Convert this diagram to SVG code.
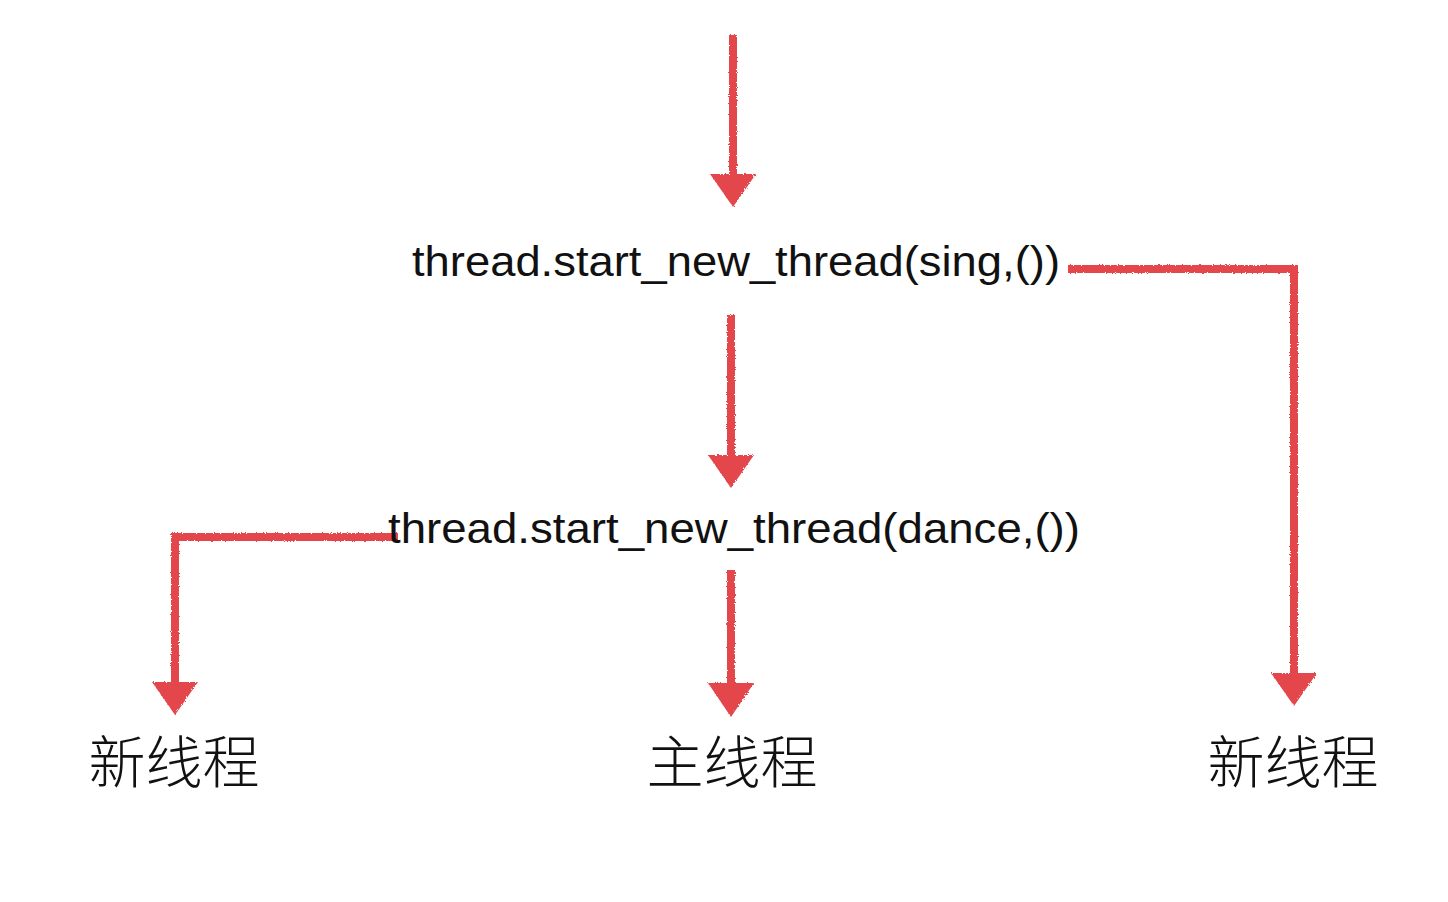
<svg xmlns="http://www.w3.org/2000/svg" width="1448" height="902" viewBox="0 0 1448 902">
<style>
.c{fill:none;stroke:#E4474B;stroke-width:8;stroke-linejoin:miter;stroke-linecap:butt}
.h{fill:#E4474B}
.code{font-family:"Liberation Sans","DejaVu Sans",sans-serif;font-size:43px;fill:#111}
.cjk{font-family:"Noto Sans CJK SC","Liberation Sans",sans-serif;font-size:57px;font-weight:300;fill:#111}
</style>
<defs>
<filter id="rough" x="-10%" y="-10%" width="120%" height="120%">
<feTurbulence type="fractalNoise" baseFrequency="0.9" numOctaves="2" seed="3" result="n"/>
<feDisplacementMap in="SourceGraphic" in2="n" scale="3"/>
</filter>
</defs>
<rect width="1448" height="902" fill="#fff"/>
<g id="connectors" filter="url(#rough)">
<path class="c" d="M733 35 V178"/>
<polygon class="h" points="710,174 756,174 733,207"/>
<path class="c" d="M731 315 V460"/>
<polygon class="h" points="708,455 754,455 731,488"/>
<path class="c" d="M1068 269 H1294 V678"/>
<polygon class="h" points="1271,673 1317,673 1294,706"/>
<path class="c" d="M398 537 H175 V688"/>
<polygon class="h" points="152,682 198,682 175,715"/>
<path class="c" d="M731 570 V688"/>
<polygon class="h" points="708,683 754,683 731,717"/>
</g>
<g id="node-sing"><text class="code" x="412" y="276" textLength="648" lengthAdjust="spacingAndGlyphs">thread.start_new_thread(sing,())</text></g>
<g id="node-dance"><text class="code" x="388" y="543" textLength="692" lengthAdjust="spacingAndGlyphs">thread.start_new_thread(dance,())</text></g>
<g id="node-new-left"><text class="cjk" x="174" y="783" text-anchor="middle">新线程</text></g>
<g id="node-main"><text class="cjk" x="732" y="783" text-anchor="middle">主线程</text></g>
<g id="node-new-right"><text class="cjk" x="1293" y="783" text-anchor="middle">新线程</text></g>
</svg>
